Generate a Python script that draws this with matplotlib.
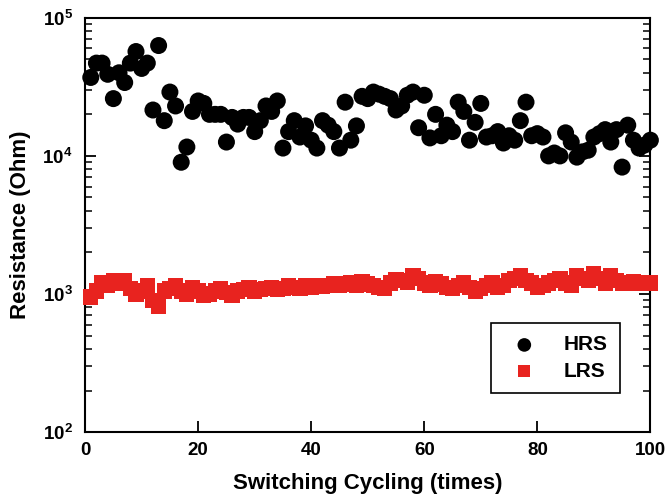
import numpy as np
import matplotlib
matplotlib.use("Agg")
import matplotlib.pyplot as plt
from matplotlib.ticker import LogLocator, NullFormatter, MultipleLocator

plt.rcParams['font.family'] = ['Liberation Sans', 'DejaVu Sans']
plt.rcParams['font.weight'] = 'bold'
plt.rcParams['mathtext.fontset'] = 'custom'
plt.rcParams['mathtext.rm'] = 'Liberation Sans:bold'
plt.rcParams['mathtext.bf'] = 'Liberation Sans:bold'
plt.rcParams['mathtext.it'] = 'Liberation Sans:bold'

cycles = np.arange(1, 101)

# HRS resistance, x1e4 Ohm
hrs = np.array([
    3.7, 4.7, 4.7, 3.9, 2.6, 4.0, 3.4, 4.7, 5.7, 4.3,
    4.7, 2.15, 6.3, 1.8, 2.9, 2.3, 0.9, 1.16, 2.1, 2.5,
    2.4, 2.0, 2.0, 2.0, 1.26, 1.9, 1.7, 1.9, 1.9, 1.5,
    1.8, 2.3, 2.1, 2.5, 1.14, 1.5, 1.8, 1.37, 1.65, 1.3,
    1.14, 1.8, 1.67, 1.5, 1.14, 2.45, 1.3, 1.65, 2.7, 2.6,
    2.9, 2.8, 2.7, 2.6, 2.15, 2.3, 2.75, 2.9, 1.6, 2.75,
    1.35, 2.0, 1.4, 1.67, 1.5, 2.45, 2.1, 1.3, 1.75, 2.4,
    1.37, 1.4, 1.5, 1.24, 1.4, 1.3, 1.8, 2.45, 1.4, 1.45,
    1.37, 1.0, 1.05, 1.0, 1.47, 1.26, 0.98, 1.07, 1.1, 1.37,
    1.45, 1.55, 1.26, 1.55, 0.83, 1.67, 1.3, 1.14, 1.2, 1.3,
]) * 1e4

# LRS resistance, x1e3 Ohm
lrs = np.array([
    0.95, 1.05, 1.2, 1.15, 1.25, 1.2, 1.25, 1.1, 1.0, 1.05,
    1.15, 0.9, 0.82, 1.05, 1.1, 1.15, 1.05, 1.0, 1.12, 1.05,
    0.98, 1.0, 1.05, 1.1, 1.02, 0.98, 1.05, 1.08, 1.12, 1.05,
    1.08, 1.1, 1.12, 1.08, 1.1, 1.15, 1.12, 1.1, 1.15, 1.12,
    1.15, 1.13, 1.15, 1.18, 1.15, 1.18, 1.2, 1.15, 1.22, 1.18,
    1.15, 1.12, 1.1, 1.2, 1.28, 1.25, 1.22, 1.35, 1.3, 1.2,
    1.15, 1.22, 1.18, 1.12, 1.1, 1.15, 1.2, 1.12, 1.05, 1.1,
    1.15, 1.2, 1.12, 1.15, 1.25, 1.3, 1.35, 1.25, 1.2, 1.12,
    1.15, 1.2, 1.25, 1.3, 1.2, 1.15, 1.35, 1.3, 1.25, 1.4,
    1.3, 1.2, 1.35, 1.25, 1.2, 1.2, 1.22, 1.2, 1.2, 1.2,
]) * 1e3

red = '#e8231f'

fig = plt.figure(figsize=(6.65, 4.95), dpi=100)
ax = fig.add_axes([0.128, 0.127, 0.85, 0.837])

ax.scatter(cycles, hrs, s=150, marker='o', color='black', edgecolors='none',
           label='HRS', clip_on=False, zorder=3)
ax.scatter(cycles, lrs, s=120, marker='s', color=red, edgecolors='none',
           label='LRS', clip_on=False, zorder=3)

ax.set_yscale('log')
ax.set_ylim(1e2, 1e5)
ax.set_xlim(0, 100)
ax.xaxis.set_major_locator(MultipleLocator(20))
ax.yaxis.set_major_locator(LogLocator(base=10, numticks=10))
ax.yaxis.set_minor_locator(LogLocator(base=10, subs=np.arange(2, 10), numticks=10))
ax.yaxis.set_minor_formatter(NullFormatter())

for s in ax.spines.values():
    s.set_linewidth(1.5)

ax.tick_params(axis='x', which='major', direction='in', length=8, width=1.3,
               labelsize=13.5, pad=7, top=False)
ax.tick_params(axis='y', which='major', direction='in', length=8, width=1.3,
               labelsize=13.5, pad=9, right=True)
ax.tick_params(axis='y', which='minor', direction='in', length=5, width=1.1,
               right=True)

ax.set_xlabel('Switching Cycling (times)', fontsize=16, fontweight='bold', labelpad=10)
ax.set_ylabel('Resistance (Ohm)', fontsize=16, fontweight='bold', labelpad=8)

leg = ax.legend(loc='lower right', bbox_to_anchor=(0.947, 0.094), fancybox=False,
                edgecolor='black', framealpha=1, markerscale=0.8,
                prop={'size': 15, 'weight': 'bold'}, borderpad=0.6,
                handletextpad=0.9, labelspacing=0.35, borderaxespad=0)
leg.get_frame().set_linewidth(1.2)

fig.savefig('out.png', dpi=100)
